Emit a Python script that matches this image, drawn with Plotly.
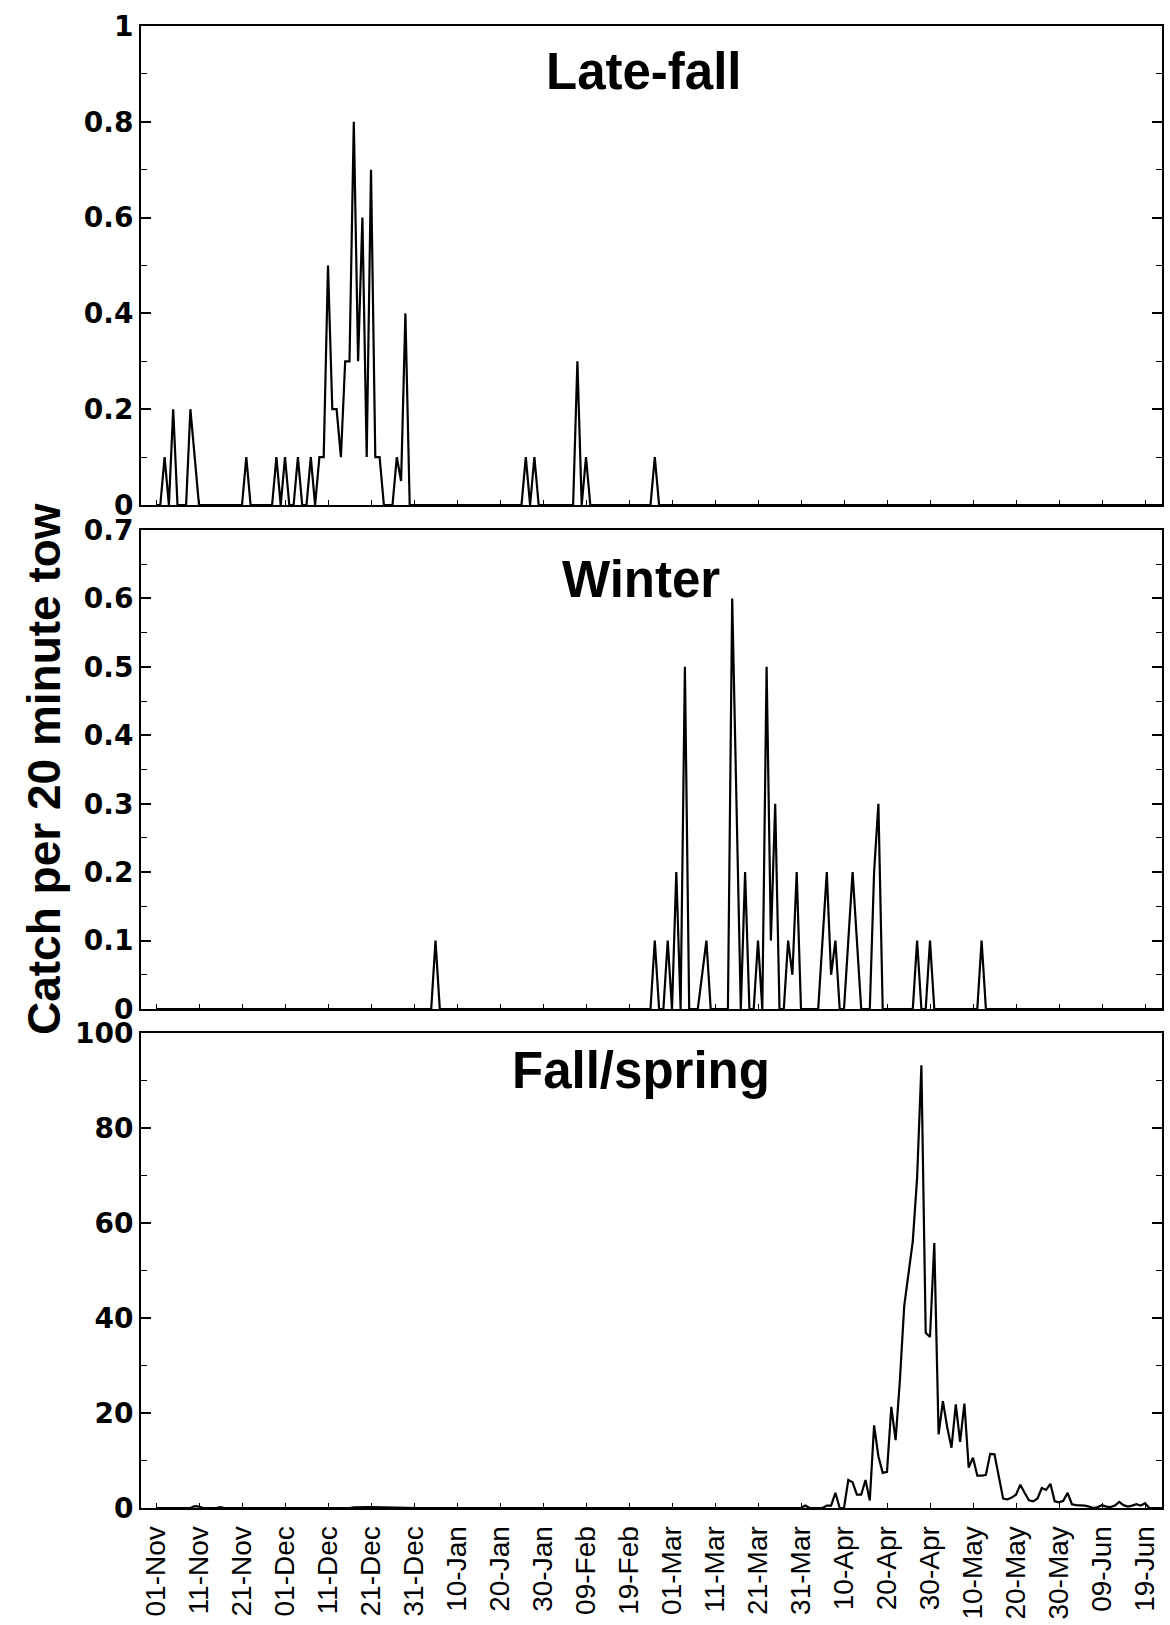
import plotly.graph_objects as go

# ---------------- data (days counted from 01-Nov) ----------------
TICK_LABELS = ["01-Nov", "11-Nov", "21-Nov", "01-Dec", "11-Dec", "21-Dec", "31-Dec",
               "10-Jan", "20-Jan", "30-Jan", "09-Feb", "19-Feb", "01-Mar", "11-Mar",
               "21-Mar", "31-Mar", "10-Apr", "20-Apr", "30-Apr", "10-May", "20-May",
               "30-May", "09-Jun", "19-Jun"]
TICK_DAYS = [0, 10, 20, 30, 40, 50, 60, 70, 80, 90, 100, 110, 120, 130, 140, 150,
             160, 170, 180, 190, 200, 210, 220, 230]

PANEL_TITLES = ["Late-fall", "Winter", "Fall/spring"]
Y_TITLE = "Catch per 20 minute tow"

LATE_FALL_DAYS = [0, 1, 2, 3, 4, 5, 7, 8, 9, 10,
                  20, 21, 22,
                  27, 28, 29, 30, 31, 32, 33, 34, 35, 36, 37, 38, 39, 40, 41, 42, 43,
                  44, 45, 46, 47, 48, 49, 50, 51, 52, 53,
                  55, 56, 57, 58, 59,
                  85, 86, 87, 88, 89,
                  97, 98, 99, 100, 101,
                  115, 116, 117, 235]
LATE_FALL_VALUES = [0, 0, 0.1, 0, 0.2, 0, 0, 0.2, 0.1, 0,
                    0, 0.1, 0,
                    0, 0.1, 0, 0.1, 0, 0, 0.1, 0, 0, 0.1, 0, 0.1, 0.1, 0.5, 0.2, 0.2, 0.1,
                    0.3, 0.3, 0.8, 0.3, 0.6, 0.1, 0.7, 0.1, 0.1, 0,
                    0, 0.1, 0.05, 0.4, 0,
                    0, 0.1, 0, 0.1, 0,
                    0, 0.3, 0, 0.1, 0,
                    0, 0.1, 0, 0]

WINTER_DAYS = [0, 64, 65, 66,
               115, 116, 117, 118, 119, 120, 121, 122, 123, 124,
               126, 127, 128, 129,
               133, 134, 135, 136, 137, 138, 139, 140, 141, 142, 143, 144, 145,
               146, 147, 148, 149, 150,
               154, 155, 156, 157, 158, 159,
               160, 161, 162, 163, 164,
               166, 167, 168, 169,
               176, 177, 178, 179, 180, 181,
               191, 192, 193, 235]
WINTER_VALUES = [0, 0, 0.1, 0,
                 0, 0.1, 0, 0, 0.1, 0, 0.2, 0, 0.5, 0,
                 0, 0.05, 0.1, 0,
                 0, 0.6, 0.3, 0, 0.2, 0, 0, 0.1, 0, 0.5, 0.1, 0.3, 0,
                 0, 0.1, 0.05, 0.2, 0,
                 0, 0.1, 0.2, 0.05, 0.1, 0,
                 0, 0.1, 0.2, 0.1, 0,
                 0, 0.2, 0.3, 0,
                 0, 0.1, 0, 0, 0.1, 0,
                 0, 0.1, 0, 0]

FALL_SPRING_DAYS = [0, 8, 9, 10, 11, 14, 15, 16, 45, 46, 50, 55, 60, 61,
                    150, 151, 152, 155, 156, 157, 158, 159,
                    160, 161, 162, 163, 164, 165, 166, 167, 168, 169,
                    170, 171, 172, 173, 174, 175, 176, 177, 178, 179,
                    180, 181, 182, 183, 184, 185, 186, 187, 188, 189,
                    190, 191, 192, 193, 194, 195, 196, 197, 198, 199,
                    200, 201, 202, 203, 204, 205, 206, 207, 208, 209,
                    210, 211, 212, 213, 214, 215, 216, 217, 218, 219,
                    220, 221, 222, 223, 224, 225, 226, 227, 228, 229,
                    230, 231, 235]
FALL_SPRING_VALUES = [0, 0, 0.4, 0.3, 0, 0, 0.2, 0, 0, 0.15, 0.2, 0.15, 0.1, 0,
                      0, 0.5, 0, 0, 0.5, 0.5, 3.2, 0,
                      0, 5.9, 5.4, 2.8, 2.8, 5.9, 1.6, 17.4, 10.9, 7.4,
                      7.6, 21.3, 14.3, 26.9, 42.5, 48.8, 56.2, 69.5, 93.2, 36.9,
                      36.0, 55.8, 15.5, 22.5, 17.0, 12.7, 21.8, 13.9, 22.0, 8.5,
                      10.6, 6.8, 6.8, 7.0, 11.4, 11.3, 7.0, 2.0, 1.8, 2.2,
                      2.8, 4.9, 3.2, 1.6, 1.4, 2.0, 4.2, 3.8, 5.1, 1.4,
                      1.2, 1.5, 3.2, 0.8, 0.6, 0.6, 0.5, 0.3, 0, 0.2,
                      0.6, 0.3, 0.2, 0.5, 1.3, 0.6, 0.3, 0.5, 0.8, 0.5,
                      1.0, 0, 0]

# ---------------- layout geometry (pixels) ----------------
W, H = 1170, 1625
L, R, T, B = 141, 1162, 26, 1508
PANELS = [(26, 505), (530, 1009), (1033, 1508)]   # top/bottom pixel of each panel
X_RANGE = [(L - 156) / 4.3, (R - 156) / 4.3]


def fy(py):
    return (B - py) / (B - T)


def fx(px):
    return (px - L) / (R - L)


fig = go.Figure()
series = [(LATE_FALL_DAYS, LATE_FALL_VALUES), (WINTER_DAYS, WINTER_VALUES),
          (FALL_SPRING_DAYS, FALL_SPRING_VALUES)]
for i, (d, v) in enumerate(series):
    sfx = "" if i == 0 else str(i + 1)
    fig.add_trace(go.Scatter(x=d, y=v, mode="lines", xaxis="x" + sfx, yaxis="y" + sfx,
                             line=dict(color="black", width=2.2), showlegend=False,
                             hoverinfo="skip"))

tick_font = dict(family="DejaVu Sans", size=28, color="black", weight="bold")
yranges = [[0, 1], [0, 0.7], [0, 100]]
ydticks = [0.2, 0.1, 20]
yminor = [0.1, 0.05, 10]

layout = dict(width=W, height=H, paper_bgcolor="white", plot_bgcolor="white",
              margin=dict(l=L, r=W - R, t=T, b=H - B, autoexpand=False),
              showlegend=False)

for i in range(3):
    sfx = "" if i == 0 else str(i + 1)
    top, bot = PANELS[i]
    layout["xaxis" + sfx] = dict(
        domain=[0, 1], anchor="y" + sfx, range=X_RANGE, automargin=False,
        tickmode="array", tickvals=TICK_DAYS, ticktext=TICK_LABELS,
        ticks="inside", ticklen=5, tickwidth=1, tickcolor="black",
        showline=True, linecolor="black", linewidth=2, mirror=True,
        showgrid=False, zeroline=False,
        showticklabels=(i == 2), tickangle=-90,
        tickfont=dict(family="Liberation Sans", size=28, color="black"),
        ticklabelstandoff=5,
    )
    if i < 2:
        layout["xaxis" + sfx]["matches"] = "x3"
    layout["yaxis" + sfx] = dict(
        domain=[fy(bot), fy(top)], anchor="x" + sfx, range=yranges[i],
        automargin=False, dtick=ydticks[i], tick0=0,
        ticks="inside", ticklen=10, tickwidth=1.5, tickcolor="black",
        minor=dict(dtick=yminor[i], ticks="inside", ticklen=6, tickwidth=1,
                   tickcolor="black"),
        showline=True, linecolor="black", linewidth=2, mirror="allticks",
        showgrid=False, zeroline=False, tickfont=tick_font,
        ticklabelstandoff=0,
    )

fig.update_layout(**layout)

title_pos = [(644, 72), (641, 579), (641, 1070)]
for txt, (px, py) in zip(PANEL_TITLES, title_pos):
    fig.add_annotation(text=txt, xref="paper", yref="paper", x=fx(px), y=fy(py),
                       xanchor="center", yanchor="middle", showarrow=False,
                       font=dict(family="Liberation Sans", size=51, color="black",
                                 weight="bold"))

fig.add_annotation(text=Y_TITLE, xref="paper", yref="paper", x=fx(44), y=fy(769),
                   xanchor="center", yanchor="middle", showarrow=False, textangle=-90,
                   font=dict(family="Liberation Sans", size=46, color="black",
                             weight="bold"))

fig.write_html("out.html")
